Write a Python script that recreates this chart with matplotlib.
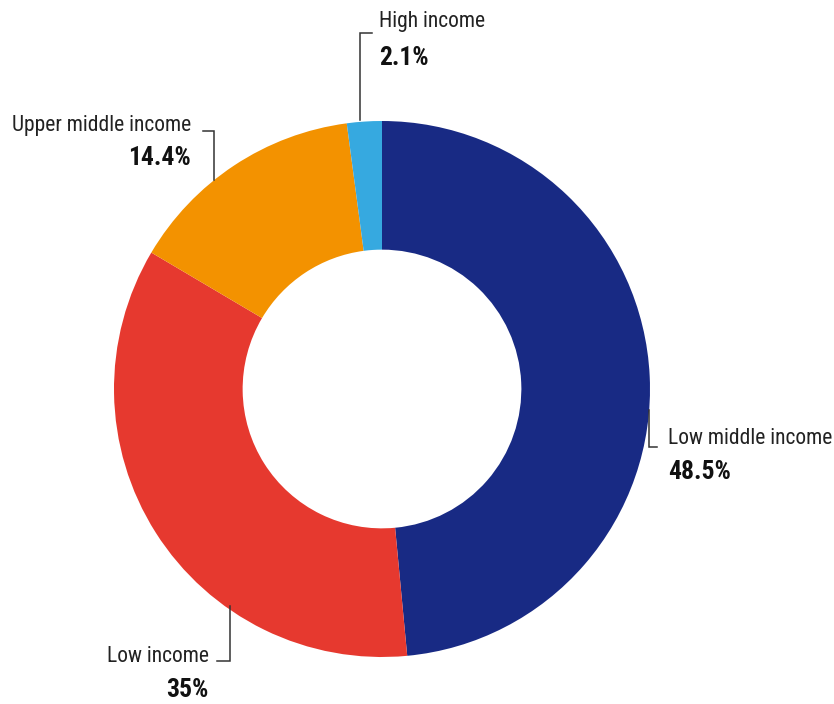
import matplotlib
matplotlib.use("Agg")
import matplotlib.pyplot as plt
from matplotlib import font_manager

categories = ["Low middle income", "Low income", "Upper middle income", "High income"]
values = [48.5, 35.0, 14.4, 2.1]
value_labels = ["48.5%", "35%", "14.4%", "2.1%"]
colors = ["#182a84", "#e6392f", "#f39200", "#36a9e0"]

names = {f.name for f in font_manager.fontManager.ttflist}
fam = "DejaVu Sans"
fs = 13
for cand, size in [("Roboto Condensed", 15.5), ("Open Sans Condensed", 15.5),
                   ("Liberation Sans Narrow", 15.5), ("DejaVu Sans Condensed", 14),
                   ("Roboto", 14), ("Lato", 14)]:
    if cand in names:
        fam, fs = cand, size
        break
fs_val = fs * 1.19

W, H = 834, 704
fig = plt.figure(figsize=(W / 100, H / 100), dpi=100)
ax = fig.add_axes([0, 0, 1, 1])

cx, cy, R = 382, H - 389, 268
ax.pie(values, colors=colors, startangle=90, counterclock=False,
       center=(cx, cy), radius=R, frame=True,
       wedgeprops=dict(width=R * 0.48, linewidth=0))
ax.set_xlim(0, W)
ax.set_ylim(0, H)
ax.set_aspect("equal")
ax.axis("off")

def Y(py):
    return H - py

lc = "#333333"
leaders = {
    "Low middle income": [(649, 410), (649, 447), (657, 447)],
    "Low income": [(230, 606), (230, 661), (217, 661)],
    "Upper middle income": [(214, 180), (214, 131), (203, 131)],
    "High income": [(360, 120), (360, 33), (372, 33)],
}
for k, pts in leaders.items():
    ax.plot([p[0] for p in pts], [Y(p[1]) for p in pts], color=lc, lw=1.1,
            solid_joinstyle="miter")

pos = {
    "Low middle income": (668, 439, 472, "left"),
    "Low income": (209, 657, 690, "right"),
    "Upper middle income": (191, 125, 158, "right"),
    "High income": (379, 22, 58, "left"),
}
for c, vl in zip(categories, value_labels):
    x, yn, yv, ha = pos[c]
    ax.text(x, Y(yn), c, ha=ha, va="center", fontsize=fs, family=fam,
            color="#222222")
    ax.text(x, Y(yv), vl, ha=ha, va="center", fontsize=fs_val, family=fam,
            fontweight="bold", color="#111111")

fig.savefig("out.png", dpi=100, facecolor="white")
